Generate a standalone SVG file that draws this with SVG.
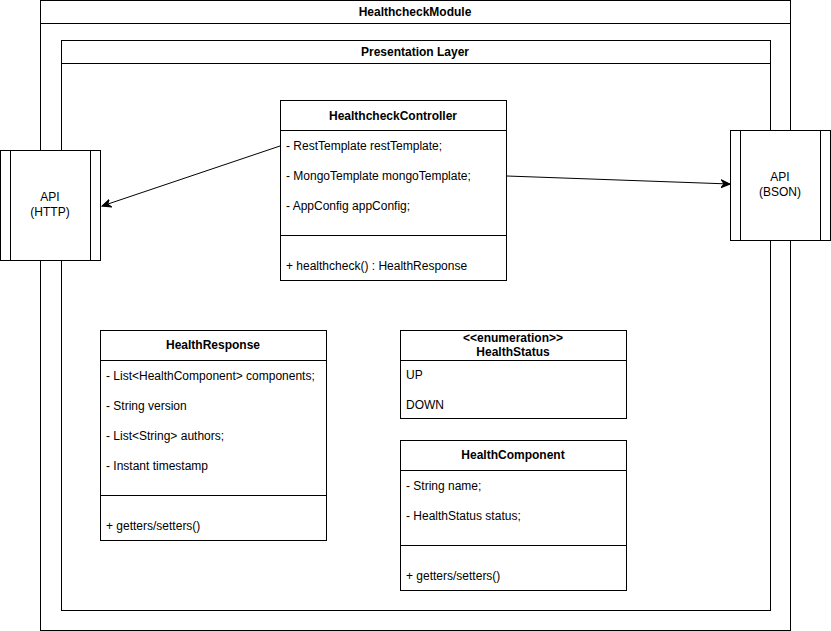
<svg xmlns="http://www.w3.org/2000/svg" width="831" height="631" viewBox="0 0 831 631">
<defs>
<marker id="arr" viewBox="0 0 10 10" refX="9" refY="5" markerWidth="10" markerHeight="10" markerUnits="userSpaceOnUse" orient="auto">
<path d="M0,1 L9,5 L0,9 L3,5 Z" fill="#000" stroke="#000" stroke-width="1"/>
</marker>
</defs>
<style>
.b{fill:#fff;stroke:#000;stroke-width:1}
.l{stroke:#000;stroke-width:1;fill:none}
text{font-family:"Liberation Sans",Arial,sans-serif;font-size:12px;fill:#000}
.h{font-weight:bold;text-anchor:middle}
.c{text-anchor:middle}
</style>
<rect width="831" height="631" fill="#fff"/>
<g id="module">
<rect class="b" x="40.5" y="0.5" width="750" height="630"/>
<line class="l" x1="40.5" y1="23.5" x2="790.5" y2="23.5"/>
<text class="h" x="415" y="16">HealthcheckModule</text>
</g>
<g id="presentation">
<rect class="b" x="61.5" y="40.5" width="709" height="570"/>
<line class="l" x1="61.5" y1="63.5" x2="770.5" y2="63.5"/>
<text class="h" x="415" y="56">Presentation Layer</text>
</g>
<g id="api-http">
<rect class="b" x="0.5" y="150.5" width="100" height="110"/>
<line class="l" x1="10.5" y1="150.5" x2="10.5" y2="260.5"/>
<line class="l" x1="90.5" y1="150.5" x2="90.5" y2="260.5"/>
<text class="c" x="50" y="201">API</text>
<text class="c" x="50" y="216">(HTTP)</text>
</g>
<g id="api-bson">
<rect class="b" x="730.5" y="130.5" width="100" height="110"/>
<line class="l" x1="740.5" y1="130.5" x2="740.5" y2="240.5"/>
<line class="l" x1="820.5" y1="130.5" x2="820.5" y2="240.5"/>
<text class="c" x="780" y="181">API</text>
<text class="c" x="780" y="196">(BSON)</text>
</g>
<g id="controller">
<rect class="b" x="280.5" y="100.5" width="226" height="180"/>
<line class="l" x1="280.5" y1="130.5" x2="506.5" y2="130.5"/>
<line class="l" x1="280.5" y1="235.5" x2="506.5" y2="235.5"/>
<text class="h" x="393" y="120">HealthcheckController</text>
<text x="286" y="150">- RestTemplate restTemplate;</text>
<text x="286" y="180">- MongoTemplate mongoTemplate;</text>
<text x="286" y="210">- AppConfig appConfig;</text>
<text x="286" y="270">+ healthcheck() : HealthResponse</text>
</g>
<g id="health-response">
<rect class="b" x="100.5" y="330.5" width="226" height="210"/>
<line class="l" x1="100.5" y1="360.5" x2="326.5" y2="360.5"/>
<line class="l" x1="100.5" y1="495.5" x2="326.5" y2="495.5"/>
<text class="h" x="213" y="349">HealthResponse</text>
<text x="106" y="380">- List&lt;HealthComponent&gt; components;</text>
<text x="106" y="410">- String version</text>
<text x="106" y="440">- List&lt;String&gt; authors;</text>
<text x="106" y="470">- Instant timestamp</text>
<text x="106" y="530">+ getters/setters()</text>
</g>
<g id="health-status">
<rect class="b" x="400.5" y="330.5" width="226" height="88"/>
<line class="l" x1="400.5" y1="360.5" x2="626.5" y2="360.5"/>
<text class="h" x="513" y="342">&lt;&lt;enumeration&gt;&gt;</text>
<text class="h" x="513" y="356">HealthStatus</text>
<text x="406" y="379">UP</text>
<text x="406" y="409">DOWN</text>
</g>
<g id="health-component">
<rect class="b" x="400.5" y="440.5" width="226" height="150"/>
<line class="l" x1="400.5" y1="470.5" x2="626.5" y2="470.5"/>
<line class="l" x1="400.5" y1="545.5" x2="626.5" y2="545.5"/>
<text class="h" x="513" y="459">HealthComponent</text>
<text x="406" y="490">- String name;</text>
<text x="406" y="520">- HealthStatus status;</text>
<text x="406" y="580">+ getters/setters()</text>
</g>
<g id="connectors">
<line class="l" x1="280" y1="146" x2="102" y2="206" marker-end="url(#arr)"/>
<line class="l" x1="507" y1="176" x2="730" y2="184" marker-end="url(#arr)"/>
</g>
</svg>
